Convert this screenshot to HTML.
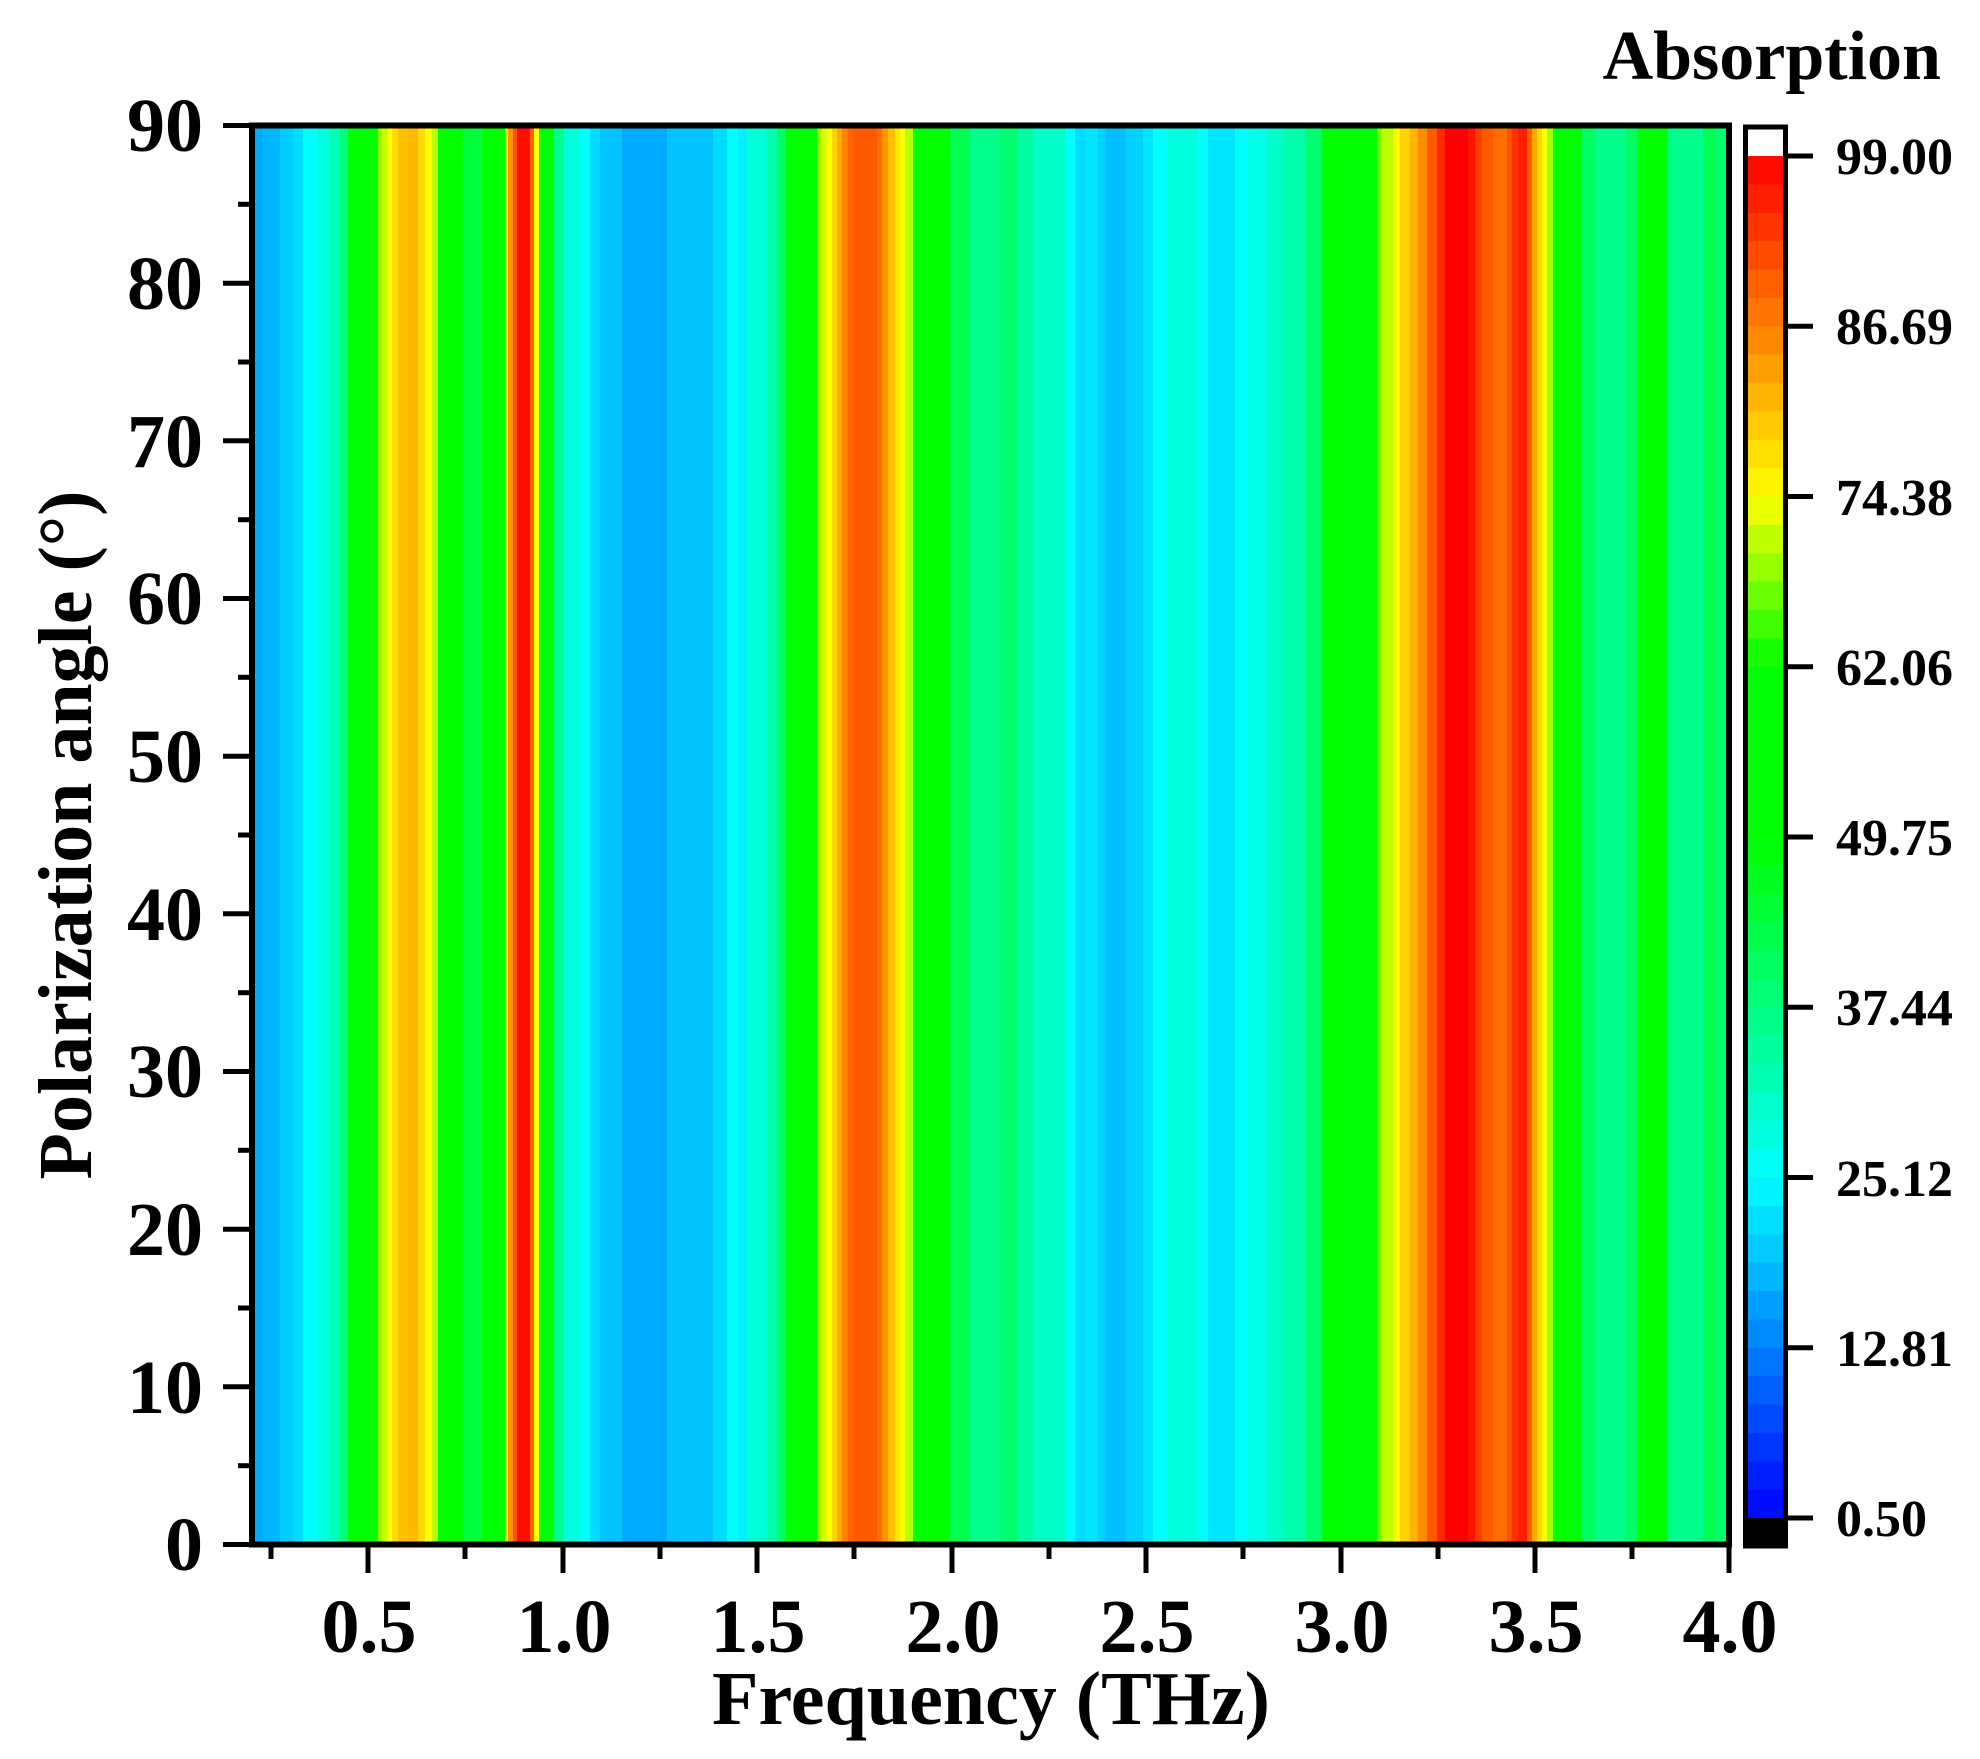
<!DOCTYPE html>
<html><head><meta charset="utf-8"><style>
html,body{margin:0;padding:0;background:#fff;}
svg{display:block;}
text{font-family:"Liberation Serif","Times New Roman",serif;font-weight:bold;fill:#000;}
</style></head><body>
<svg width="1980" height="1759" viewBox="0 0 1980 1759" xmlns="http://www.w3.org/2000/svg">
<g shape-rendering="crispEdges">
<rect x="255" y="128" width="9" height="1414" fill="rgb(0,170,255)"/>
<rect x="263" y="128" width="18" height="1414" fill="rgb(0,182,255)"/>
<rect x="280" y="128" width="14" height="1414" fill="rgb(0,205,255)"/>
<rect x="293" y="128" width="11" height="1414" fill="rgb(0,222,255)"/>
<rect x="303" y="128" width="16" height="1414" fill="rgb(0,255,255)"/>
<rect x="318" y="128" width="13" height="1414" fill="rgb(0,255,220)"/>
<rect x="330" y="128" width="11" height="1414" fill="rgb(0,255,180)"/>
<rect x="340" y="128" width="9" height="1414" fill="rgb(0,255,120)"/>
<rect x="348" y="128" width="31" height="1414" fill="rgb(0,255,0)"/>
<rect x="378" y="128" width="5" height="1414" fill="rgb(150,255,0)"/>
<rect x="382" y="128" width="6" height="1414" fill="rgb(200,255,0)"/>
<rect x="387" y="128" width="6" height="1414" fill="rgb(255,255,0)"/>
<rect x="392" y="128" width="7" height="1414" fill="rgb(255,220,0)"/>
<rect x="398" y="128" width="11" height="1414" fill="rgb(255,192,0)"/>
<rect x="408" y="128" width="11" height="1414" fill="rgb(255,185,0)"/>
<rect x="418" y="128" width="8" height="1414" fill="rgb(255,220,0)"/>
<rect x="425" y="128" width="8" height="1414" fill="rgb(255,255,0)"/>
<rect x="432" y="128" width="7" height="1414" fill="rgb(180,255,0)"/>
<rect x="438" y="128" width="26" height="1414" fill="rgb(0,255,0)"/>
<rect x="463" y="128" width="20" height="1414" fill="rgb(0,255,60)"/>
<rect x="482" y="128" width="24" height="1414" fill="rgb(0,255,0)"/>
<rect x="505" y="128" width="4" height="1414" fill="rgb(240,240,0)"/>
<rect x="508" y="128" width="6" height="1414" fill="rgb(255,150,0)"/>
<rect x="513" y="128" width="5" height="1414" fill="rgb(255,80,0)"/>
<rect x="517" y="128" width="14" height="1414" fill="rgb(255,15,0)"/>
<rect x="530" y="128" width="5" height="1414" fill="rgb(255,100,0)"/>
<rect x="534" y="128" width="6" height="1414" fill="rgb(255,255,0)"/>
<rect x="539" y="128" width="15" height="1414" fill="rgb(0,255,0)"/>
<rect x="553" y="128" width="11" height="1414" fill="rgb(0,255,140)"/>
<rect x="563" y="128" width="18" height="1414" fill="rgb(0,255,220)"/>
<rect x="580" y="128" width="11" height="1414" fill="rgb(0,255,255)"/>
<rect x="590" y="128" width="11" height="1414" fill="rgb(0,220,255)"/>
<rect x="600" y="128" width="23" height="1414" fill="rgb(0,195,255)"/>
<rect x="622" y="128" width="46" height="1414" fill="rgb(0,170,255)"/>
<rect x="667" y="128" width="47" height="1414" fill="rgb(0,195,255)"/>
<rect x="713" y="128" width="15" height="1414" fill="rgb(0,220,255)"/>
<rect x="727" y="128" width="12" height="1414" fill="rgb(0,255,255)"/>
<rect x="738" y="128" width="10" height="1414" fill="rgb(0,240,255)"/>
<rect x="747" y="128" width="21" height="1414" fill="rgb(0,255,215)"/>
<rect x="767" y="128" width="11" height="1414" fill="rgb(0,255,170)"/>
<rect x="777" y="128" width="9" height="1414" fill="rgb(0,255,100)"/>
<rect x="785" y="128" width="33" height="1414" fill="rgb(0,255,0)"/>
<rect x="817" y="128" width="6" height="1414" fill="rgb(160,255,0)"/>
<rect x="822" y="128" width="6" height="1414" fill="rgb(220,255,0)"/>
<rect x="827" y="128" width="6" height="1414" fill="rgb(255,255,0)"/>
<rect x="832" y="128" width="6" height="1414" fill="rgb(255,210,0)"/>
<rect x="837" y="128" width="6" height="1414" fill="rgb(255,170,0)"/>
<rect x="842" y="128" width="7" height="1414" fill="rgb(255,130,0)"/>
<rect x="848" y="128" width="6" height="1414" fill="rgb(255,100,0)"/>
<rect x="853" y="128" width="25" height="1414" fill="rgb(255,90,0)"/>
<rect x="877" y="128" width="6" height="1414" fill="rgb(255,110,0)"/>
<rect x="882" y="128" width="7" height="1414" fill="rgb(255,150,0)"/>
<rect x="888" y="128" width="8" height="1414" fill="rgb(255,190,0)"/>
<rect x="895" y="128" width="6" height="1414" fill="rgb(255,230,0)"/>
<rect x="900" y="128" width="6" height="1414" fill="rgb(255,255,0)"/>
<rect x="905" y="128" width="9" height="1414" fill="rgb(180,255,0)"/>
<rect x="913" y="128" width="38" height="1414" fill="rgb(0,255,0)"/>
<rect x="950" y="128" width="21" height="1414" fill="rgb(0,255,80)"/>
<rect x="970" y="128" width="31" height="1414" fill="rgb(0,255,140)"/>
<rect x="1000" y="128" width="18" height="1414" fill="rgb(0,255,110)"/>
<rect x="1017" y="128" width="17" height="1414" fill="rgb(0,255,160)"/>
<rect x="1033" y="128" width="33" height="1414" fill="rgb(0,255,200)"/>
<rect x="1065" y="128" width="11" height="1414" fill="rgb(0,255,255)"/>
<rect x="1075" y="128" width="11" height="1414" fill="rgb(0,220,255)"/>
<rect x="1085" y="128" width="14" height="1414" fill="rgb(0,230,255)"/>
<rect x="1098" y="128" width="8" height="1414" fill="rgb(0,210,255)"/>
<rect x="1105" y="128" width="21" height="1414" fill="rgb(0,190,255)"/>
<rect x="1125" y="128" width="19" height="1414" fill="rgb(0,210,255)"/>
<rect x="1143" y="128" width="11" height="1414" fill="rgb(0,230,255)"/>
<rect x="1153" y="128" width="15" height="1414" fill="rgb(0,255,255)"/>
<rect x="1167" y="128" width="31" height="1414" fill="rgb(0,255,220)"/>
<rect x="1197" y="128" width="12" height="1414" fill="rgb(0,255,255)"/>
<rect x="1208" y="128" width="28" height="1414" fill="rgb(0,230,255)"/>
<rect x="1235" y="128" width="14" height="1414" fill="rgb(0,255,255)"/>
<rect x="1248" y="128" width="20" height="1414" fill="rgb(0,255,230)"/>
<rect x="1267" y="128" width="17" height="1414" fill="rgb(0,255,200)"/>
<rect x="1283" y="128" width="23" height="1414" fill="rgb(0,255,170)"/>
<rect x="1305" y="128" width="18" height="1414" fill="rgb(0,255,110)"/>
<rect x="1322" y="128" width="56" height="1414" fill="rgb(0,255,0)"/>
<rect x="1377" y="128" width="6" height="1414" fill="rgb(120,255,0)"/>
<rect x="1382" y="128" width="12" height="1414" fill="rgb(190,255,0)"/>
<rect x="1393" y="128" width="8" height="1414" fill="rgb(255,255,0)"/>
<rect x="1400" y="128" width="11" height="1414" fill="rgb(255,210,0)"/>
<rect x="1410" y="128" width="9" height="1414" fill="rgb(255,180,0)"/>
<rect x="1418" y="128" width="10" height="1414" fill="rgb(255,140,0)"/>
<rect x="1427" y="128" width="11" height="1414" fill="rgb(255,90,0)"/>
<rect x="1437" y="128" width="9" height="1414" fill="rgb(255,40,0)"/>
<rect x="1445" y="128" width="24" height="1414" fill="rgb(255,0,0)"/>
<rect x="1468" y="128" width="8" height="1414" fill="rgb(255,20,0)"/>
<rect x="1475" y="128" width="8" height="1414" fill="rgb(255,60,0)"/>
<rect x="1482" y="128" width="12" height="1414" fill="rgb(255,90,0)"/>
<rect x="1493" y="128" width="15" height="1414" fill="rgb(255,110,0)"/>
<rect x="1507" y="128" width="6" height="1414" fill="rgb(255,80,0)"/>
<rect x="1512" y="128" width="7" height="1414" fill="rgb(255,50,0)"/>
<rect x="1518" y="128" width="10" height="1414" fill="rgb(255,30,0)"/>
<rect x="1527" y="128" width="6" height="1414" fill="rgb(255,100,0)"/>
<rect x="1532" y="128" width="6" height="1414" fill="rgb(255,170,0)"/>
<rect x="1537" y="128" width="6" height="1414" fill="rgb(255,220,0)"/>
<rect x="1542" y="128" width="6" height="1414" fill="rgb(255,255,0)"/>
<rect x="1547" y="128" width="7" height="1414" fill="rgb(160,255,0)"/>
<rect x="1553" y="128" width="30" height="1414" fill="rgb(0,255,0)"/>
<rect x="1582" y="128" width="14" height="1414" fill="rgb(0,255,100)"/>
<rect x="1595" y="128" width="31" height="1414" fill="rgb(0,255,140)"/>
<rect x="1625" y="128" width="13" height="1414" fill="rgb(0,255,100)"/>
<rect x="1637" y="128" width="31" height="1414" fill="rgb(0,255,0)"/>
<rect x="1667" y="128" width="37" height="1414" fill="rgb(0,255,140)"/>
<rect x="1703" y="128" width="13" height="1414" fill="rgb(0,255,80)"/>
<rect x="1715" y="128" width="12" height="1414" fill="rgb(0,255,110)"/>
</g>
<rect x="252" y="125.5" width="1477" height="1419" fill="none" stroke="#000" stroke-width="6"/>
<g stroke="#000" stroke-width="5">
<line x1="368" y1="1545" x2="368" y2="1573"/><line x1="563" y1="1545" x2="563" y2="1573"/>
<line x1="757" y1="1545" x2="757" y2="1573"/><line x1="952" y1="1545" x2="952" y2="1573"/>
<line x1="1146" y1="1545" x2="1146" y2="1573"/><line x1="1341" y1="1545" x2="1341" y2="1573"/>
<line x1="1535" y1="1545" x2="1535" y2="1573"/><line x1="1729" y1="1545" x2="1729" y2="1573"/>
<line x1="271" y1="1545" x2="271" y2="1559"/><line x1="465" y1="1545" x2="465" y2="1559"/>
<line x1="660" y1="1545" x2="660" y2="1559"/><line x1="854" y1="1545" x2="854" y2="1559"/>
<line x1="1049" y1="1545" x2="1049" y2="1559"/><line x1="1243" y1="1545" x2="1243" y2="1559"/>
<line x1="1438" y1="1545" x2="1438" y2="1559"/><line x1="1632" y1="1545" x2="1632" y2="1559"/>
<line x1="223" y1="125.5" x2="252" y2="125.5"/><line x1="223" y1="283.2" x2="252" y2="283.2"/>
<line x1="223" y1="440.8" x2="252" y2="440.8"/><line x1="223" y1="598.5" x2="252" y2="598.5"/>
<line x1="223" y1="756.2" x2="252" y2="756.2"/><line x1="223" y1="913.8" x2="252" y2="913.8"/>
<line x1="223" y1="1071.5" x2="252" y2="1071.5"/><line x1="223" y1="1229.2" x2="252" y2="1229.2"/>
<line x1="223" y1="1386.8" x2="252" y2="1386.8"/><line x1="223" y1="1544.5" x2="252" y2="1544.5"/>
<line x1="238" y1="204.3" x2="252" y2="204.3"/><line x1="238" y1="362" x2="252" y2="362"/>
<line x1="238" y1="519.7" x2="252" y2="519.7"/><line x1="238" y1="677.3" x2="252" y2="677.3"/>
<line x1="238" y1="835" x2="252" y2="835"/><line x1="238" y1="992.7" x2="252" y2="992.7"/>
<line x1="238" y1="1150.3" x2="252" y2="1150.3"/><line x1="238" y1="1308" x2="252" y2="1308"/>
<line x1="238" y1="1465.7" x2="252" y2="1465.7"/>
</g>
<g font-size="76" text-anchor="end">
<text x="203" y="151">90</text><text x="203" y="309">80</text><text x="203" y="467">70</text>
<text x="203" y="624">60</text><text x="203" y="782">50</text><text x="203" y="940">40</text>
<text x="203" y="1097">30</text><text x="203" y="1255">20</text><text x="203" y="1413">10</text>
<text x="203" y="1570">0</text>
</g>
<g font-size="76" text-anchor="middle">
<text x="369" y="1652">0.5</text><text x="564" y="1652">1.0</text><text x="758" y="1652">1.5</text>
<text x="953" y="1652">2.0</text><text x="1147" y="1652">2.5</text><text x="1342" y="1652">3.0</text>
<text x="1536" y="1652">3.5</text><text x="1730" y="1652">4.0</text>
</g>
<text x="991" y="1724" font-size="76" text-anchor="middle">Frequency (THz)</text>
<text transform="translate(91,835) rotate(-90)" font-size="76" text-anchor="middle">Polarization angle (°)</text>
<text x="1941" y="79" font-size="70" text-anchor="end">Absorption</text>
<g shape-rendering="crispEdges">
<rect x="1745" y="127" width="41" height="30" fill="#fff"/>
<rect x="1745" y="156" width="41" height="29" fill="rgb(255,11,0)"/>
<rect x="1745" y="184.4" width="41" height="29" fill="rgb(255,32,0)"/>
<rect x="1745" y="212.8" width="41" height="29" fill="rgb(255,53,0)"/>
<rect x="1745" y="241.1" width="41" height="29" fill="rgb(255,74,0)"/>
<rect x="1745" y="269.5" width="41" height="29" fill="rgb(255,96,0)"/>
<rect x="1745" y="297.9" width="41" height="29" fill="rgb(255,117,0)"/>
<rect x="1745" y="326.3" width="41" height="29" fill="rgb(255,138,0)"/>
<rect x="1745" y="354.6" width="41" height="29" fill="rgb(255,159,0)"/>
<rect x="1745" y="383" width="41" height="29" fill="rgb(255,181,0)"/>
<rect x="1745" y="411.4" width="41" height="29" fill="rgb(255,202,0)"/>
<rect x="1745" y="439.8" width="41" height="29" fill="rgb(255,223,0)"/>
<rect x="1745" y="468.1" width="41" height="29" fill="rgb(255,244,0)"/>
<rect x="1745" y="496.5" width="41" height="29" fill="rgb(234,255,0)"/>
<rect x="1745" y="524.9" width="41" height="29" fill="rgb(191,255,0)"/>
<rect x="1745" y="553.3" width="41" height="29" fill="rgb(149,255,0)"/>
<rect x="1745" y="581.6" width="41" height="29" fill="rgb(106,255,0)"/>
<rect x="1745" y="610" width="41" height="29" fill="rgb(64,255,0)"/>
<rect x="1745" y="638.4" width="41" height="29" fill="rgb(21,255,0)"/>
<rect x="1745" y="666.8" width="41" height="171" fill="rgb(0,255,0)"/>
<rect x="1745" y="837" width="41" height="29" fill="rgb(0,255,11)"/>
<rect x="1745" y="865.4" width="41" height="29" fill="rgb(0,255,32)"/>
<rect x="1745" y="893.8" width="41" height="29" fill="rgb(0,255,53)"/>
<rect x="1745" y="922.1" width="41" height="29" fill="rgb(0,255,74)"/>
<rect x="1745" y="950.5" width="41" height="29" fill="rgb(0,255,96)"/>
<rect x="1745" y="978.9" width="41" height="29" fill="rgb(0,255,117)"/>
<rect x="1745" y="1007.3" width="41" height="29" fill="rgb(0,255,138)"/>
<rect x="1745" y="1035.6" width="41" height="29" fill="rgb(0,255,159)"/>
<rect x="1745" y="1064" width="41" height="29" fill="rgb(0,255,181)"/>
<rect x="1745" y="1092.4" width="41" height="29" fill="rgb(0,255,202)"/>
<rect x="1745" y="1120.8" width="41" height="29" fill="rgb(0,255,223)"/>
<rect x="1745" y="1149.1" width="41" height="29" fill="rgb(0,255,244)"/>
<rect x="1745" y="1177.5" width="41" height="29" fill="rgb(0,244,255)"/>
<rect x="1745" y="1205.9" width="41" height="29" fill="rgb(0,223,255)"/>
<rect x="1745" y="1234.3" width="41" height="29" fill="rgb(0,202,255)"/>
<rect x="1745" y="1262.6" width="41" height="29" fill="rgb(0,181,255)"/>
<rect x="1745" y="1291" width="41" height="29" fill="rgb(0,159,255)"/>
<rect x="1745" y="1319.4" width="41" height="29" fill="rgb(0,138,255)"/>
<rect x="1745" y="1347.8" width="41" height="29" fill="rgb(0,117,255)"/>
<rect x="1745" y="1376.1" width="41" height="29" fill="rgb(0,96,255)"/>
<rect x="1745" y="1404.5" width="41" height="29" fill="rgb(0,74,255)"/>
<rect x="1745" y="1432.9" width="41" height="29" fill="rgb(0,53,255)"/>
<rect x="1745" y="1461.3" width="41" height="29" fill="rgb(0,32,255)"/>
<rect x="1745" y="1489.6" width="41" height="29" fill="rgb(0,11,255)"/>
<rect x="1745" y="1518" width="41" height="28" fill="#000"/>
</g>
<rect x="1745.5" y="127" width="40" height="1419" fill="none" stroke="#000" stroke-width="5"/>
<g stroke="#000" stroke-width="5">
<line x1="1786" y1="156" x2="1813" y2="156"/><line x1="1786" y1="326.3" x2="1813" y2="326.3"/>
<line x1="1786" y1="496.5" x2="1813" y2="496.5"/><line x1="1786" y1="666.8" x2="1813" y2="666.8"/>
<line x1="1786" y1="837" x2="1813" y2="837"/><line x1="1786" y1="1007.3" x2="1813" y2="1007.3"/>
<line x1="1786" y1="1177.5" x2="1813" y2="1177.5"/><line x1="1786" y1="1347.8" x2="1813" y2="1347.8"/>
<line x1="1786" y1="1518" x2="1813" y2="1518"/>
</g>
<g font-size="52">
<text x="1836" y="174">99.00</text><text x="1836" y="344">86.69</text><text x="1836" y="515">74.38</text>
<text x="1836" y="685">62.06</text><text x="1836" y="855">49.75</text><text x="1836" y="1025">37.44</text>
<text x="1836" y="1196">25.12</text><text x="1836" y="1366">12.81</text><text x="1836" y="1536">0.50</text>
</g>
</svg>
</body></html>
